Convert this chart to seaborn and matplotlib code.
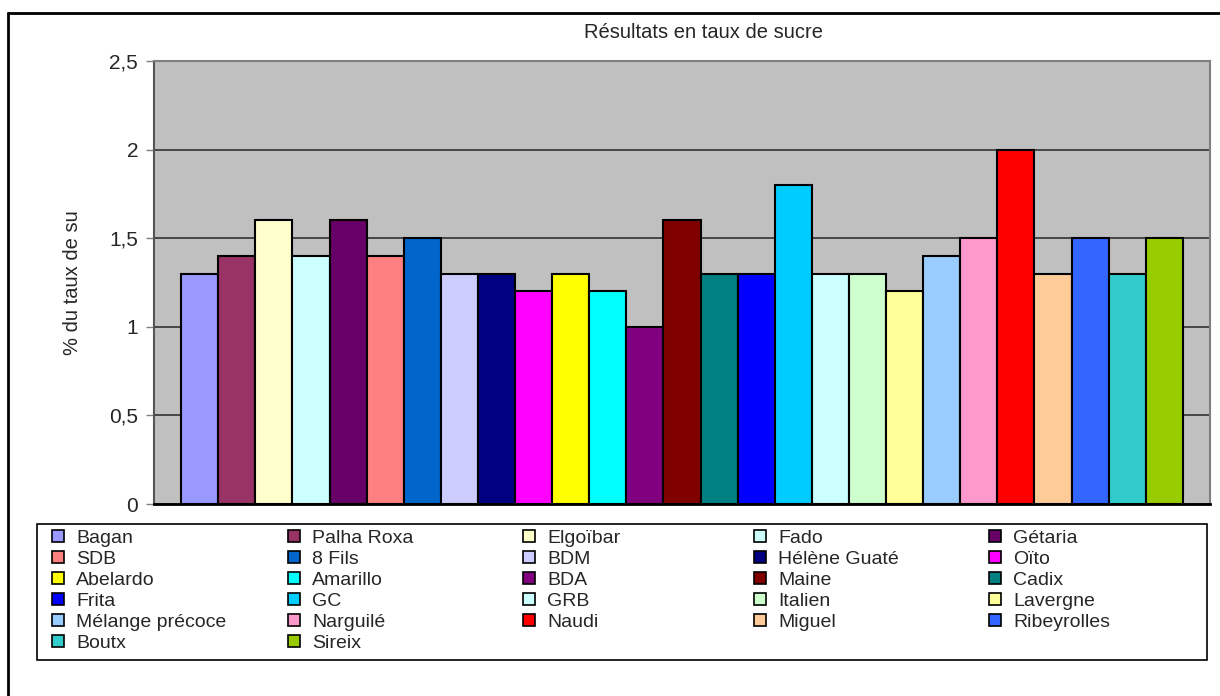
import pandas as pd
import matplotlib.pyplot as plt
import seaborn as sns
from matplotlib.patches import Patch, Rectangle
from matplotlib.lines import Line2D
from matplotlib.ticker import FuncFormatter

# Données
varietes = ["Bagan", "Palha Roxa", "Elgoïbar", "Fado", "Gétaria", "SDB", "8 Fils",
            "BDM", "Hélène Guaté", "Oïto", "Abelardo", "Amarillo", "BDA", "Maine",
            "Cadix", "Frita", "GC", "GRB", "Italien", "Lavergne", "Mélange précoce",
            "Narguilé", "Naudi", "Miguel", "Ribeyrolles", "Boutx", "Sireix"]
taux = [1.3, 1.4, 1.6, 1.4, 1.6, 1.4, 1.5, 1.3, 1.3, 1.2, 1.3, 1.2, 1.0, 1.6,
        1.3, 1.3, 1.8, 1.3, 1.3, 1.2, 1.4, 1.5, 2.0, 1.3, 1.5, 1.3, 1.5]
couleurs = ["#9999FF", "#993366", "#FFFFCC", "#CCFFFF", "#660066", "#FF8080", "#0066CC",
            "#CCCCFF", "#000080", "#FF00FF", "#FFFF00", "#00FFFF", "#800080", "#800000",
            "#008080", "#0000FF", "#00CCFF", "#CCFFFF", "#CCFFCC", "#FFFF99", "#99CCFF",
            "#FF99CC", "#FF0000", "#FFCC99", "#3366FF", "#33CCCC", "#99CC00"]

df = pd.DataFrame({"variete": varietes, "taux": taux})

sns.set_style("white")
plt.rcParams["font.family"] = ["Liberation Sans", "DejaVu Sans"]

W, H = 1220, 696
fig = plt.figure(figsize=(12.2, 6.96), dpi=100)
ax = fig.add_axes([154 / W, 1 - 504 / H, (1210 - 154) / W, (504 - 61) / H])
ax.set_facecolor("#C0C0C0")

sns.barplot(data=df, x="variete", y="taux", hue="variete", palette=couleurs,
            dodge=False, width=1.0, saturation=1, edgecolor="black", linewidth=1.5,
            legend=False, ax=ax, zorder=3)

ax.set_xlim(-0.5 - 0.73, len(varietes) - 0.5 + 0.73)
ax.set_ylim(0, 2.5)
ax.set_yticks([0, 0.5, 1, 1.5, 2, 2.5])
ax.yaxis.set_major_formatter(FuncFormatter(lambda v, p: f"{v:g}".replace(".", ",")))
ax.set_xticks([])
ax.set_xlabel("")
ax.set_ylabel("")
ax.grid(axis="y", color="#333333", linewidth=1.2, zorder=1)
ax.set_axisbelow(True)
ax.tick_params(axis="y", direction="out", length=6, width=1, color="#808080",
               labelsize=15, pad=5.5, left=True)
for s in ["top", "right"]:
    ax.spines[s].set_color("#808080")
    ax.spines[s].set_linewidth(1.5)
ax.spines["left"].set_color("#555555")
ax.spines["left"].set_linewidth(1.5)
ax.spines["bottom"].set_color("black")
ax.spines["bottom"].set_linewidth(2)

# Titre et axe
fig.text(704 / W, 1 - 32 / H, "Résultats en taux de sucre", ha="center", va="center", fontsize=14.5)
fig.text(72 / W, 1 - 283 / H, "% du taux de su", rotation=90, ha="center", va="center", fontsize=14.5)

# Légende : 5 colonnes remplies par lignes (comme Excel)
ncol = 5
col_x = [52, 288, 523, 754, 989]
for j in range(ncol):
    idx = list(range(j, len(varietes), ncol))
    handles = [Patch(facecolor=couleurs[i], edgecolor="black", linewidth=1.2) for i in idx]
    labels = [varietes[i] for i in idx]
    leg = fig.legend(handles, labels, loc="upper left",
                     bbox_to_anchor=(col_x[j] / W, 1 - 530 / H),
                     frameon=False, fontsize=14, handlelength=0.6, handleheight=0.6,
                     handletextpad=0.65, labelspacing=0.2, borderpad=0, borderaxespad=0)
fig.add_artist(Rectangle((37 / W, 1 - 660 / H), (1207 - 37) / W, (660 - 524) / H,
                         transform=fig.transFigure, fill=False, edgecolor="black", linewidth=1.2))

# Cadre extérieur
fig.add_artist(Line2D([8 / W, 8 / W], [0, 1 - 13 / H], color="black", linewidth=2))
fig.add_artist(Line2D([8 / W, 1], [1 - 13 / H, 1 - 13 / H], color="black", linewidth=2))

plt.savefig("out.png", dpi=100)
plt.close()
